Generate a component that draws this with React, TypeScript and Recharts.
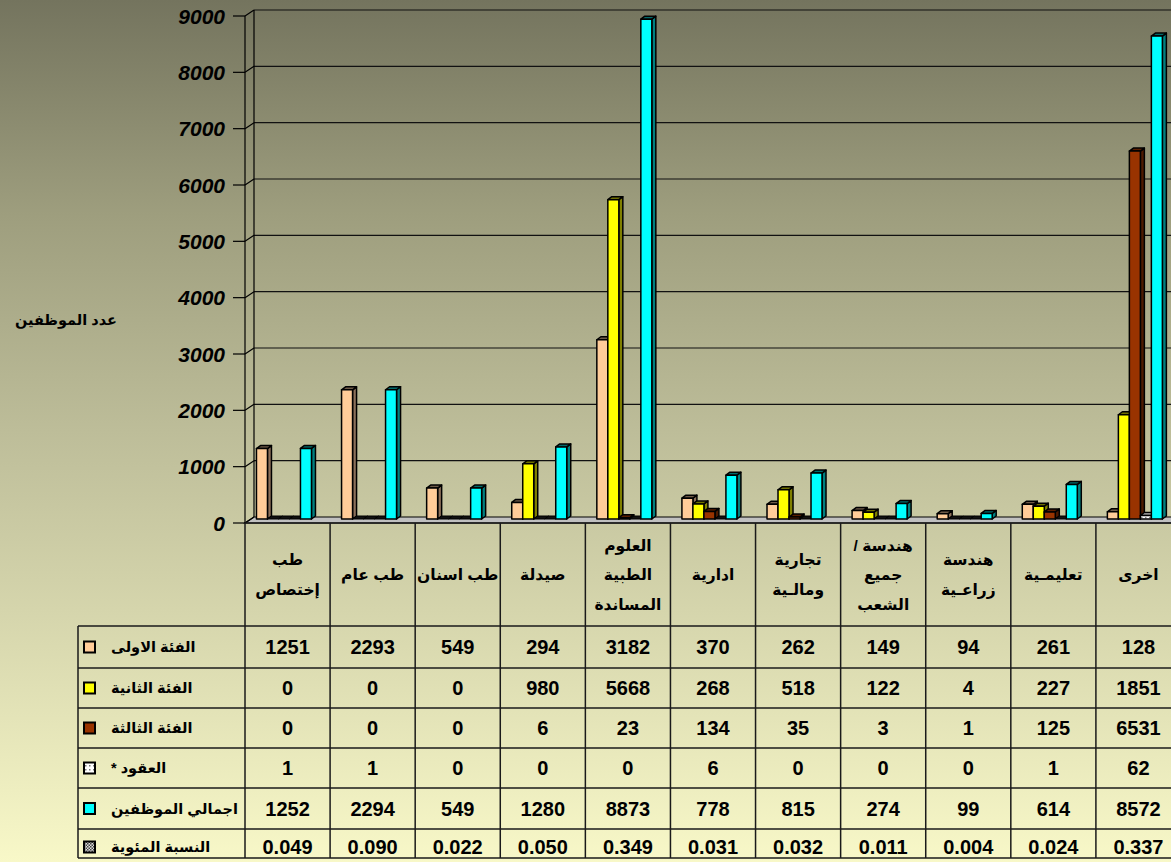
import React from 'react';
import { BarChart, Bar, XAxis, YAxis, CartesianGrid } from 'recharts';

// categories (multi-line headers use \n)
const categories = [
  'طب\nإختصاص',
  'طب عام',
  'طب اسنان',
  'صيدلة',
  'العلوم\nالطبية\nالمساندة',
  'ادارية',
  'تجارية\nومالـية',
  'هندسة /\nجميع\nالشعب',
  'هندسة\nزراعـية',
  'تعليمـية',
  'اخرى',
];

const grade1 = [1251, 2293, 549, 294, 3182, 370, 262, 149, 94, 261, 128];
const grade2 = [0, 0, 0, 980, 5668, 268, 518, 122, 4, 227, 1851];
const grade3 = [0, 0, 0, 6, 23, 134, 35, 3, 1, 125, 6531];
const contracts = [1, 1, 0, 0, 0, 6, 0, 0, 0, 1, 62];
const totals = [1252, 2294, 549, 1280, 8873, 778, 815, 274, 99, 614, 8572];
const ratio = [0.049, 0.09, 0.022, 0.05, 0.349, 0.031, 0.032, 0.011, 0.004, 0.024, 0.337];

const yTicks = [0, 1000, 2000, 3000, 4000, 5000, 6000, 7000, 8000, 9000];

const rowLabels = [
  'الفئة الاولى',
  'الفئة الثانية',
  'الفئة الثالثة',
  'العقود *',
  'اجمالي الموظفين',
  'النسبة المئوية',
];

const data = categories.map((name, i) => ({
  name,
  g1: grade1[i],
  g2: grade2[i],
  g3: grade3[i],
  contracts: contracts[i],
  total: totals[i],
}));

const tableRows = [
  grade1.map(String),
  grade2.map(String),
  grade3.map(String),
  contracts.map(String),
  totals.map(String),
  ratio.map((v) => v.toFixed(3)),
];

// layout
const PAGE_W = 1171;
const PAGE_H = 862;
const CHART_W = 1181; // source chart runs a little past the right edge
const CHART_H = 545;
const PLOT_LEFT = 245;
const BAND = (CHART_W - PLOT_LEFT) / categories.length;
const FONT = '"Liberation Sans", Arial, "DejaVu Sans", sans-serif';

const HEADER_TOP = 523;
const ROW_TOPS = [626, 668, 708, 748, 788, 829];
const TABLE_BOTTOM = 858;
const KEY_LEFT = 78;

type Faces = { front: string; top: string; side: string };

const faces: Record<string, Faces> = {
  g1: { front: '#FFCC99', top: '#6E5A48', side: '#8C705A' },
  g2: { front: '#FFFF00', top: '#6E6E00', side: '#808000' },
  g3: { front: '#993300', top: '#5A1E00', side: '#4D1A00' },
  contracts: { front: 'url(#dots)', top: '#BBBBBB', side: '#999999' },
  total: { front: '#00FFFF', top: '#006A6A', side: '#008080' },
};

const keyFills = ['#FFCC99', '#FFFF00', '#993300', 'url(#dots2)', '#00FFFF', 'url(#checks)'];

function Bar3D(props: any) {
  const { x, y, width, height, f } = props;
  const dx = 4;
  const dy = 3;
  const fx = x - 3;
  const w = width;
  if (!height || height < 1) {
    const by = y + (height || 0);
    return (
      <polygon
        points={`${fx},${by} ${fx + dx},${by - dy} ${fx + w + dx},${by - dy} ${fx + w},${by}`}
        fill="#111"
        stroke="#000"
        strokeWidth={1}
      />
    );
  }
  return (
    <g stroke="#000" strokeWidth={1.5} strokeLinejoin="round">
      <polygon
        points={`${fx + w},${y} ${fx + w + dx},${y - dy} ${fx + w + dx},${y + height - dy} ${fx + w},${y + height}`}
        fill={f.side}
      />
      <polygon
        points={`${fx},${y} ${fx + dx},${y - dy} ${fx + w + dx},${y - dy} ${fx + w},${y}`}
        fill={f.top}
      />
      <rect x={fx} y={y} width={w} height={height} fill={f.front} />
    </g>
  );
}

function YTick(props: any) {
  const { y, payload } = props;
  return (
    <g>
      <text
        x={225}
        y={y + 4}
        textAnchor="end"
        dominantBaseline="central"
        fontFamily={FONT}
        fontWeight="bold"
        fontStyle="italic"
        fontSize={21}
        fill="#000"
      >
        {payload.value}
      </text>
      <line x1={233} x2={PLOT_LEFT} y1={y + 4} y2={y + 4} stroke="#000" strokeWidth={1.2} />
      <line x1={PLOT_LEFT} y1={y + 4} x2={PLOT_LEFT + 9} y2={y - 2} stroke="#000" strokeWidth={1.2} />
    </g>
  );
}

// back wall grid lines and the grey floor
function HLine(p: any) {
  if (p.y1 > 500) {
    const y = p.y1;
    return (
      <polygon
        key={p.key}
        points={`${p.x1},${y + 4} ${p.x1 + 9},${y - 2} ${p.x2 + 9},${y - 2} ${p.x2},${y + 4}`}
        fill="#C0C0C0"
        stroke="#000"
        strokeWidth={1.2}
      />
    );
  }
  return (
    <line key={p.key} x1={p.x1 + 9} y1={p.y1 - 2} x2={p.x2 + 9} y2={p.y2 - 2} stroke="#111" strokeWidth={1.2} />
  );
}

function VLine(p: any) {
  return (
    <g key={p.key}>
      <line x1={p.x1 + 9} y1={p.y1 - 2} x2={p.x2 + 9} y2={p.y2 - 2} stroke="#000" strokeWidth={1.2} />
      <line x1={p.x1} y1={p.y1 + 4} x2={p.x2} y2={p.y2 + 4} stroke="#000" strokeWidth={1.2} />
    </g>
  );
}

function Table() {
  const colX = categories.map((_, i) => PLOT_LEFT + i * BAND);
  const lineColor = '#1a1a1a';
  return (
    <svg
      width={PAGE_W}
      height={PAGE_H}
      style={{ position: 'absolute', left: 0, top: 0, pointerEvents: 'none' }}
    >
      <defs>
        <pattern id="dots2" width="4" height="4" patternUnits="userSpaceOnUse">
          <rect width="4" height="4" fill="#fff" />
          <rect x="1" y="1" width="1.5" height="1.5" fill="#777" />
        </pattern>
        <pattern id="checks" width="3" height="3" patternUnits="userSpaceOnUse">
          <rect width="3" height="3" fill="#ddd" />
          <rect width="1.5" height="1.5" fill="#444" />
          <rect x="1.5" y="1.5" width="1.5" height="1.5" fill="#444" />
        </pattern>
      </defs>

      {/* y axis title */}
      <text
        x={66}
        y={320}
        textAnchor="middle"
        dominantBaseline="central"
        fontFamily={FONT}
        fontWeight="bold"
        fontSize={14.5}
        direction="rtl"
      >
        عدد الموظفين
      </text>

      {/* front axis line running down through the table */}
      <line x1={PLOT_LEFT} y1={HEADER_TOP} x2={PLOT_LEFT} y2={TABLE_BOTTOM} stroke={lineColor} strokeWidth={1.5} />

      {/* horizontal table lines */}
      <line x1={PLOT_LEFT} y1={HEADER_TOP} x2={PAGE_W} y2={HEADER_TOP} stroke={lineColor} strokeWidth={1.5} />
      {ROW_TOPS.map((y) => (
        <line key={y} x1={KEY_LEFT} y1={y} x2={PAGE_W} y2={y} stroke={lineColor} strokeWidth={1.5} />
      ))}
      <line x1={KEY_LEFT} y1={TABLE_BOTTOM} x2={PAGE_W} y2={TABLE_BOTTOM} stroke={lineColor} strokeWidth={1.5} />
      <line x1={KEY_LEFT} y1={ROW_TOPS[0]} x2={KEY_LEFT} y2={TABLE_BOTTOM} stroke={lineColor} strokeWidth={1.5} />

      {/* vertical column lines */}
      {colX.slice(1).map((x) => (
        <line key={x} x1={x} y1={HEADER_TOP} x2={x} y2={TABLE_BOTTOM} stroke={lineColor} strokeWidth={1.5} />
      ))}

      {/* header labels */}
      {categories.map((c, i) => {
        const lines = c.split('\n');
        const cx = colX[i] + BAND / 2;
        const cy = (HEADER_TOP + ROW_TOPS[0]) / 2;
        const lh = 29.5;
        return lines.map((ln, k) => (
          <text
            key={`${i}-${k}`}
            x={cx}
            y={cy + (k - (lines.length - 1) / 2) * lh}
            textAnchor="middle"
            dominantBaseline="central"
            fontFamily={FONT}
            fontWeight="bold"
            fontSize={15.5}
            direction="rtl"
          >
            {ln}
          </text>
        ));
      })}

      {/* row labels with legend keys */}
      {rowLabels.map((lbl, r) => {
        const top = ROW_TOPS[r];
        const bottom = r + 1 < ROW_TOPS.length ? ROW_TOPS[r + 1] : TABLE_BOTTOM + 7;
        const cy = (top + bottom) / 2;
        return (
          <g key={lbl}>
            <rect
              x={84}
              y={cy - 5.5}
              width={11}
              height={11}
              fill={keyFills[r]}
              stroke="#000"
              strokeWidth={2}
            />
            <text
              x={111}
              y={cy}
              textAnchor="end"
              dominantBaseline="central"
              fontFamily={FONT}
              fontWeight="bold"
              fontSize={14.5}
              direction="rtl"
            >
              {lbl}
            </text>
          </g>
        );
      })}

      {/* values */}
      {tableRows.map((row, r) => {
        const top = ROW_TOPS[r];
        const bottom = r + 1 < ROW_TOPS.length ? ROW_TOPS[r + 1] : TABLE_BOTTOM + 7;
        const cy = (top + bottom) / 2;
        return row.map((v, i) => (
          <text
            key={`${r}-${i}`}
            x={colX[i] + BAND / 2}
            y={cy}
            textAnchor="middle"
            dominantBaseline="central"
            fontFamily={FONT}
            fontWeight="bold"
            fontSize={20}
          >
            {v}
          </text>
        ));
      })}
    </svg>
  );
}

export default function App() {
  return (
    <div
      style={{
        position: 'absolute',
        left: 0,
        top: 0,
        width: PAGE_W,
        height: PAGE_H,
        overflow: 'hidden',
        background: 'linear-gradient(to bottom, #74745E 0%, #9E9E7E 25%, #BDBD99 50%, #DADAB0 75%, #F8F8C8 100%)',
        fontFamily: FONT,
      }}
    >
      <BarChart
        width={CHART_W}
        height={CHART_H}
        data={data}
        margin={{ top: 12, right: 0, bottom: 26, left: 0 }}
        barCategoryGap="17%"
        barGap={0}
      >
        <defs>
          <pattern id="dots" width="4" height="4" patternUnits="userSpaceOnUse">
            <rect width="4" height="4" fill="#fff" />
            <rect x="1" y="1" width="1.5" height="1.5" fill="#888" />
          </pattern>
        </defs>
        <CartesianGrid
          horizontal={HLine}
          vertical={VLine}
          verticalPoints={[PLOT_LEFT]}
          stroke="#000"
        />
        <XAxis dataKey="name" hide />
        <YAxis
          domain={[0, 9000]}
          ticks={yTicks}
          width={PLOT_LEFT}
          axisLine={false}
          tickLine={false}
          tick={<YTick />}
          interval={0}
        />
        {(['g1', 'g2', 'g3', 'contracts', 'total'] as const).map((k) => (
          <Bar
            key={k}
            dataKey={k}
            isAnimationActive={false}
            fill={faces[k].front}
            shape={(p: any) => <Bar3D {...p} f={faces[k]} />}
          />
        ))}
      </BarChart>
      <Table />
    </div>
  );
}
